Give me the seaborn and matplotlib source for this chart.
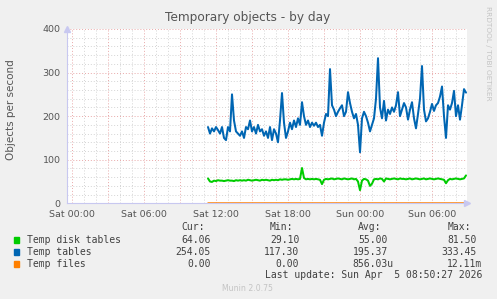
import numpy as np
import pandas as pd
import matplotlib
matplotlib.use("Agg")
import matplotlib.pyplot as plt
import matplotlib.dates as mdates
from matplotlib.ticker import MultipleLocator, FuncFormatter
import seaborn as sns

# ---------------- data ----------------
series_names = ["Temp disk tables", "Temp tables", "Temp files"]
series_colors = ["#00CC00", "#0066B3", "#FF8000"]

start_time = "2026-04-04 11:20"   # first sample (Sat)
sample_step = "10min"

temp_tables = [
    175, 160, 172, 165, 175, 168, 160, 175, 150, 145, 175, 165, 250, 190, 165, 160, 155,
    165, 150, 175, 170, 190, 165, 175, 160, 180, 165, 170, 155, 165, 150, 175, 145, 170,
    160, 140, 190, 253, 185, 150, 165, 185, 170, 190, 175, 195, 180, 232, 200, 180,
    190, 175, 185, 178, 185, 175, 180, 155, 185, 205, 200, 308, 225, 215, 200, 210,
    218, 225, 200, 210, 255, 230, 210, 195, 205, 180, 117, 195, 210, 200, 185, 165,
    180, 195, 240, 333, 220, 195, 235, 190, 215, 205, 220, 210, 225, 255, 200, 215,
    230, 220, 192, 215, 232, 195, 172, 205, 240, 315, 215, 188, 195, 210, 228, 212,
    225, 230, 245, 268, 200, 150, 225, 215, 230, 258, 200, 225, 192, 225, 262, 254,
]

temp_disk_tables = [
    57, 50, 49, 52, 51, 53, 52, 52, 51, 52, 53, 52, 52, 51, 53, 52, 53,
    52, 53, 52, 54, 53, 52, 53, 54, 53, 52, 54, 53, 54, 53, 52, 54, 53,
    54, 53, 55, 54, 55, 55, 54, 55, 56, 55, 56, 55, 56, 81, 58, 55,
    56, 55, 56, 55, 56, 55, 54, 44, 54, 56, 55, 56, 57, 55, 56, 57,
    56, 55, 57, 56, 55, 56, 57, 55, 56, 50, 30, 52, 56, 55, 52, 40,
    45, 55, 56, 55, 57, 56, 50, 57, 56, 55, 56, 57, 56, 55, 57, 56,
    56, 55, 56, 57, 55, 56, 57, 56, 55, 56, 57, 55, 56, 57, 56, 55,
    56, 57, 56, 55, 54, 46, 53, 56, 55, 56, 57, 56, 55, 56, 57, 64,
]

temp_files = [0.0] * len(temp_tables)

y_ticks = [0, 100, 200, 300, 400]
x_tick_hours = [0, 6, 12, 18]

legend_cur = ["64.06", "254.05", "0.00"]
legend_min = ["29.10", "117.30", "0.00"]
legend_avg = ["55.00", "195.37", "856.03u"]
legend_max = ["81.50", "333.45", "12.11m"]

title = "Temporary objects - by day"
y_label = "Objects per second"
last_update = "Last update: Sun Apr  5 08:50:27 2026"
footer = "Munin 2.0.75"
side_text = "RRDTOOL / TOBI OETIKER"

# ---------------- frame ----------------
times = pd.date_range(start_time, periods=len(temp_tables), freq=sample_step)
df = pd.concat([
    pd.DataFrame({"time": times, "value": temp_disk_tables, "series": series_names[0]}),
    pd.DataFrame({"time": times, "value": temp_tables, "series": series_names[1]}),
    pd.DataFrame({"time": times, "value": temp_files, "series": series_names[2]}),
])

sns.set_style("white")
plt.rcParams["font.family"] = ["DejaVu Sans"]

W, H = 497, 299
fig = plt.figure(figsize=(W / 100, H / 100), dpi=100, facecolor="#F0F0F0")
left, right, top, bottom = 67, 467, 29, 203.3
ax = fig.add_axes([left / W, 1 - bottom / H, (right - left) / W, (bottom - top) / H])
ax.set_facecolor("white")

sns.lineplot(data=df, x="time", y="value", hue="series", palette=series_colors,
             hue_order=series_names, legend=False, linewidth=1.45, ax=ax,
             estimator=None, sort=False)
# thinner zero line for "Temp files"
ax.get_lines()[2].set_linewidth(1.1)

ax.set_xlim(pd.Timestamp("2026-04-03 23:35"), pd.Timestamp("2026-04-05 08:55"))
ax.set_ylim(0, 400)

# grids
ax.yaxis.set_major_locator(MultipleLocator(100))
ax.yaxis.set_minor_locator(MultipleLocator(20))
ax.xaxis.set_major_locator(mdates.HourLocator(byhour=range(0, 24, 3)))
ax.xaxis.set_minor_locator(mdates.HourLocator())

def xfmt(v, pos):
    d = mdates.num2date(v)
    return d.strftime("%a %H:%M") if d.hour in x_tick_hours and d.minute == 0 else ""

ax.xaxis.set_major_formatter(FuncFormatter(xfmt))
ax.set_yticks(y_ticks)
ax.set_yticklabels([str(v) for v in y_ticks])

ax.grid(which="minor", color="#d4d4d4", linestyle=(0, (1, 2)), linewidth=0.7)
ax.grid(which="major", color="#e8a8a8", linestyle=(0, (1, 2)), linewidth=0.7)
ax.set_axisbelow(True)

ax.tick_params(axis="both", which="major", labelsize=6.8, labelcolor="#555555",
               color="#e8a8a8", length=2.5, width=0.8, pad=2)
ax.tick_params(axis="both", which="minor", color="#cccccc", length=1.5, width=0.6)

for s in ["top", "right"]:
    ax.spines[s].set_visible(False)
ax.spines["left"].set_color("#c8c8f0")
ax.spines["bottom"].set_color("#c8c8f0")
ax.spines["left"].set_linewidth(0.8)
ax.spines["bottom"].set_linewidth(0.8)

# axis arrows
ax.plot([0], [1.0], marker="^", color="#c8c8f0", markersize=4, transform=ax.transAxes, clip_on=False)
ax.plot([1.0], [0], marker=">", color="#c8c8f0", markersize=4, transform=ax.transAxes, clip_on=False)

ax.set_xlabel("")
ax.set_ylabel("")
fig.text(10.8 / W, 1 - 109.6 / H, y_label, rotation=90, ha="center", va="center",
         fontsize=7.5, color="#555555")

fig.text(248 / W, 1 - 18 / H, title, ha="center", va="center", fontsize=8.7, color="#555555")
fig.text(488 / W, 1 - 53 / H, side_text, ha="center", va="center", rotation=270,
         fontsize=5.3, color="#c4c4c4")

# ---------------- legend table ----------------
mono = dict(family="DejaVu Sans Mono", fontsize=7.05, color="#404040")
def fy(y):
    return 1 - y / H

headers = ["Cur:", "Min:", "Avg:", "Max:"]
col_right = [210.7, 299.3, 387.7, 476.7]
char_w = 5.9
for h, xr in zip(headers, col_right):
    fig.text((xr - char_w) / W, fy(227.3), h, ha="right", va="center", **mono)

rows_y = [240, 252, 263.7]
for i, (name, col) in enumerate(zip(series_names, series_colors)):
    y = rows_y[i]
    fig.patches.append(plt.Rectangle((13.8 / W, fy(y + 2.8)), 5.6 / W, 5.6 / H,
                                     transform=fig.transFigure, color=col, figure=fig))
    fig.text(26.7 / W, fy(y), name, ha="left", va="center", **mono)
    for vals, xr in zip([legend_cur, legend_min, legend_avg, legend_max], col_right):
        v = vals[i]
        xe = xr + (char_w if v[-1].isalpha() else 0)
        fig.text(xe / W, fy(y), v, ha="right", va="center", **mono)

fig.text(482.7 / W, fy(275.3), last_update, ha="right", va="center", **mono)
fig.text(247.7 / W, fy(288.3), footer, ha="center", va="center", fontsize=5.6, color="#c4c4c4")

fig.savefig("out.png", dpi=100, facecolor=fig.get_facecolor())
